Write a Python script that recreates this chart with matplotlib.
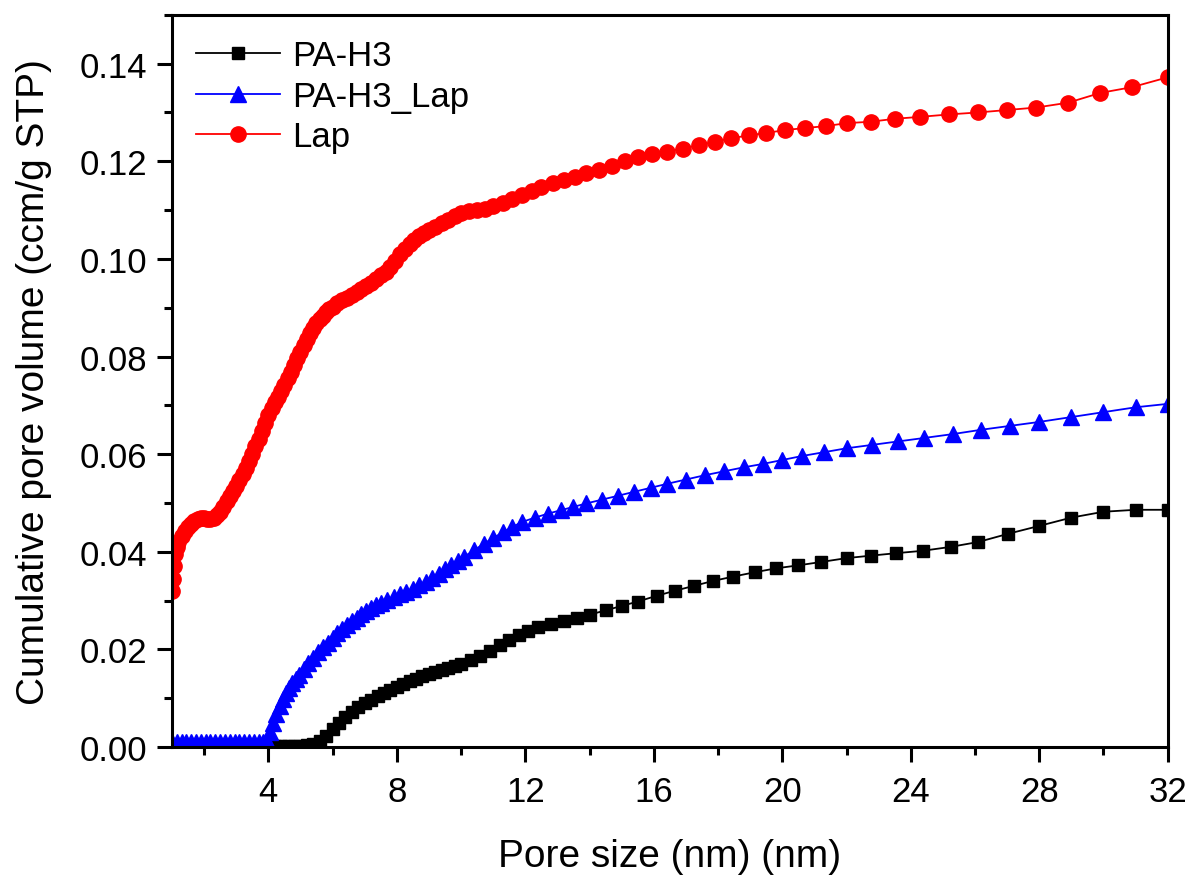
import matplotlib
matplotlib.use("Agg")
import matplotlib.pyplot as plt
from matplotlib.ticker import MultipleLocator

plt.rcParams['font.family'] = ['Liberation Sans', 'DejaVu Sans']

# PA-H3 (black squares)
pa_x = [1.0, 1.2, 1.4, 1.6, 1.8, 2.0, 2.2, 2.4, 2.6, 2.8, 3.0, 3.2, 3.4, 3.6, 3.8,
        4.0, 4.2, 4.4, 4.6, 4.8, 5.0, 5.2, 5.4, 5.6, 5.8, 6.0, 6.2, 6.4, 6.6, 6.8,
        7.0, 7.2, 7.4, 7.6, 7.8, 8.0, 8.2, 8.4, 8.6, 8.8, 9.0, 9.2, 9.4, 9.6, 9.8,
        10.0, 10.3, 10.6, 10.9, 11.2, 11.5, 11.8, 12.1, 12.4, 12.8, 13.2, 13.6,
        14.0, 14.5, 15.0, 15.5, 16.1, 16.65, 17.24, 17.83, 18.46, 19.14, 19.8,
        20.48, 21.2, 22.0, 22.75, 23.53, 24.37, 25.24, 26.1, 27.04, 28.0, 29.0,
        30.0, 31.0, 32.0]
pa_y = [0.0003, 0.0003, 0.0003, 0.0003, 0.0003, 0.0003, 0.0003, 0.0003, 0.0003, 0.0003,
        0.0003, 0.0003, 0.0003, 0.0003, 0.0003, 0.0003, 0.0003, 0.0003, 0.0003, 0.0003,
        0.0003, 0.0004, 0.0006, 0.0012, 0.0022, 0.0036, 0.0050, 0.0062, 0.0072, 0.0081,
        0.0090, 0.0097, 0.0104, 0.0111, 0.0117, 0.0123, 0.0129, 0.0135, 0.0140, 0.0145,
        0.0150, 0.0154, 0.0158, 0.0162, 0.0166, 0.0170, 0.0178, 0.0187, 0.0197, 0.0208,
        0.0220, 0.0230, 0.0238, 0.0245, 0.0252, 0.0259, 0.0265,
        0.0271, 0.0280, 0.0289, 0.0298, 0.0310, 0.0320, 0.0330, 0.0340, 0.0349, 0.0358, 0.0366,
        0.0372, 0.0379, 0.0387, 0.0392, 0.0397, 0.0402, 0.0410, 0.0420, 0.0437, 0.0453, 0.0470,
        0.0482, 0.0486, 0.0486]

# PA-H3_Lap (blue triangles)
pal_x = [1.0, 1.15, 1.3, 1.45, 1.6, 1.75, 1.9, 2.05, 2.2, 2.35, 2.5, 2.65, 2.8, 2.95,
         3.1, 3.25, 3.4, 3.55, 3.7, 3.85, 3.95, 4.05, 4.15, 4.25, 4.35, 4.45, 4.55,
         4.65, 4.75, 4.85, 4.95, 5.1, 5.25, 5.4, 5.55, 5.7, 5.85, 6.0, 6.15, 6.3, 6.45,
         6.6, 6.75, 6.9, 7.05, 7.2, 7.35, 7.5, 7.7, 7.9, 8.1, 8.3, 8.5, 8.7, 8.9,
         9.1, 9.3, 9.5, 9.7, 9.9, 10.1, 10.4, 10.7, 11.0, 11.3, 11.6, 11.9, 12.3,
         12.7, 13.1, 13.5, 13.9, 14.4, 14.9, 15.4, 15.9, 16.4, 17.0, 17.6, 18.2,
         18.8, 19.4, 20.0, 20.6, 21.3, 22.0, 22.8, 23.6, 24.4, 25.3, 26.2, 27.1,
         28.0, 29.0, 30.0, 31.0, 32.0]
pal_y = [0.0010, 0.0010, 0.0010, 0.0010, 0.0010, 0.0010, 0.0010, 0.0010, 0.0010, 0.0010,
         0.0010, 0.0010, 0.0010, 0.0010, 0.0010, 0.0010, 0.0010, 0.0010, 0.0010, 0.0010,
         0.0012, 0.0030, 0.0050, 0.0068, 0.0084, 0.0098, 0.0110, 0.0121, 0.0131, 0.0140,
         0.0148, 0.0160, 0.0172, 0.0183, 0.0194, 0.0204, 0.0214, 0.0224, 0.0233, 0.0242,
         0.0250, 0.0258, 0.0265, 0.0272, 0.0278, 0.0284, 0.0290, 0.0295, 0.0301, 0.0307,
         0.0313, 0.0318, 0.0324, 0.0331, 0.0338, 0.0346, 0.0355, 0.0364, 0.0373, 0.0382,
         0.0390, 0.0403, 0.0416, 0.0428, 0.0440, 0.0451, 0.0461, 0.0470, 0.0478, 0.0485,
         0.0492, 0.0499, 0.0507, 0.0515, 0.0523, 0.0531, 0.0539, 0.0548, 0.0557, 0.0565,
         0.0573, 0.0580, 0.0588, 0.0596, 0.0604, 0.0612, 0.0619, 0.0626, 0.0633, 0.0641,
         0.0650, 0.0658, 0.0666, 0.0676, 0.0686, 0.0696, 0.0703]

# Lap (red circles)
lap_x = [1.0, 1.03, 1.06, 1.1, 1.15, 1.2, 1.3, 1.4, 1.5, 1.6, 1.7, 1.8, 1.9, 2.0, 2.1,
         2.2, 2.3, 2.4, 2.5, 2.6, 2.7, 2.8, 2.9, 3.0, 3.1, 3.2, 3.3, 3.4, 3.5, 3.6,
         3.7, 3.8, 3.9, 4.0, 4.1, 4.2, 4.3, 4.4, 4.5, 4.6, 4.7, 4.8, 4.9, 5.0, 5.1,
         5.2, 5.3, 5.4, 5.5, 5.6, 5.7, 5.8, 5.9, 6.0, 6.15, 6.3, 6.45, 6.6, 6.75,
         6.9, 7.05, 7.2, 7.35, 7.5, 7.65, 7.8, 7.95, 8.1, 8.25, 8.4, 8.55, 8.7, 8.85,
         9.0, 9.2, 9.4, 9.6, 9.8, 10.0, 10.25, 10.5, 10.75, 11.0, 11.3, 11.6, 11.9,
         12.2, 12.5, 12.85, 13.2, 13.55, 13.9, 14.3, 14.7, 15.1, 15.5, 15.95, 16.4,
         16.9, 17.4, 17.9, 18.4, 18.95, 19.5, 20.1, 20.7, 21.35, 22.0, 22.75, 23.5,
         24.3, 25.2, 26.1, 27.0, 27.9, 28.9, 29.9, 30.9, 32.0]
lap_y = [0.0320, 0.0345, 0.0370, 0.0395, 0.0410, 0.0420, 0.0432, 0.0442, 0.0450, 0.0457,
         0.0463, 0.0467, 0.0469, 0.0469, 0.0468, 0.0468, 0.0470, 0.0475, 0.0482, 0.0492,
         0.0503, 0.0514, 0.0524, 0.0535, 0.0548, 0.0560, 0.0572, 0.0585, 0.0600, 0.0616,
         0.0632, 0.0648, 0.0664, 0.0680, 0.0694, 0.0707, 0.0718, 0.0730, 0.0742, 0.0755,
         0.0768, 0.0782, 0.0796, 0.0810, 0.0823, 0.0836, 0.0848, 0.0859, 0.0868, 0.0876,
         0.0884, 0.0891, 0.0897, 0.0902, 0.0909, 0.0915, 0.0920, 0.0926, 0.0932, 0.0938,
         0.0944, 0.0951, 0.0958, 0.0966, 0.0974, 0.0984, 0.0996, 0.1009, 0.1020, 0.1030,
         0.1038, 0.1046, 0.1053, 0.1059, 0.1066, 0.1073, 0.1080, 0.1087, 0.1093, 0.1098,
         0.1100, 0.1103, 0.1108, 0.1115, 0.1122, 0.1130, 0.1140, 0.1148, 0.1155, 0.1162,
         0.1168, 0.1175, 0.1183, 0.1191, 0.1200, 0.1208, 0.1215, 0.1220, 0.1226, 0.1233,
         0.1240, 0.1247, 0.1253, 0.1258, 0.1264, 0.1268, 0.1272, 0.1278, 0.1281, 0.1287,
         0.1291, 0.1296, 0.1300, 0.1305, 0.1310, 0.1320, 0.1340, 0.1352, 0.1372]

fig = plt.figure(figsize=(11.94, 8.79), dpi=100)
ax = fig.add_axes([0.144, 0.149, 0.834, 0.833])

ax.plot(pa_x, pa_y, color='black', marker='s', markersize=8.5, linewidth=1.3, label='PA-H3')
ax.plot(pal_x, pal_y, color='blue', marker='^', markersize=11, linewidth=1.3, label='PA-H3_Lap')
ax.plot(lap_x, lap_y, color='red', marker='o', markersize=11, linewidth=1.3, label='Lap')

ax.set_xlim(1, 32)
ax.set_ylim(0, 0.15)
ax.xaxis.set_major_locator(MultipleLocator(4))
ax.xaxis.set_minor_locator(MultipleLocator(2))
ax.set_yticks([0.00, 0.02, 0.04, 0.06, 0.08, 0.10, 0.12, 0.14])
ax.set_yticklabels(['0.00', '0.02', '0.04', '0.06', '0.08', '0.10', '0.12', '0.14'])
ax.yaxis.set_minor_locator(MultipleLocator(0.01))

ax.tick_params(which='major', direction='out', length=11, width=2.2, labelsize=25)
ax.tick_params(which='minor', direction='out', length=6, width=2.2)
ax.tick_params(axis='y', which='major', pad=7)
ax.tick_params(axis='x', which='major', pad=9)
for s in ax.spines.values():
    s.set_linewidth(2.2)

ax.set_xlabel('Pore size (nm) (nm)', fontsize=28, labelpad=22)
ax.set_ylabel('Cumulative pore volume (ccm/g STP)', fontsize=28, labelpad=20)

ax.legend(loc='upper left', fontsize=25, frameon=False, handlelength=2.4,
          borderaxespad=0.3, labelspacing=0.22, handletextpad=0.35)

plt.savefig('out.png', dpi=100)
